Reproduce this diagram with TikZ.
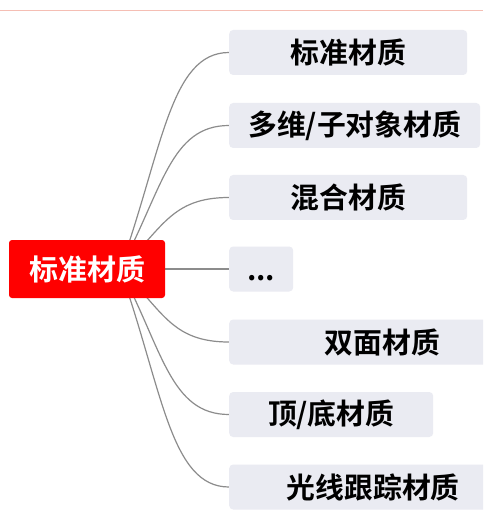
\documentclass[tikz,border=0pt]{standalone}
\usepackage{fontspec}
\newfontfamily\cjk{Noto Sans CJK SC}[BoldFont={Noto Sans CJK SC Bold}]
\usetikzlibrary{backgrounds,calc}
\definecolor{boxfill}{RGB}{234,235,242}
\definecolor{rootred}{RGB}{255,0,0}
\definecolor{linegray}{RGB}{140,140,140}
\definecolor{topline}{RGB}{245,190,180}
\begin{document}
\begin{tikzpicture}[x=1pt,y=1pt,
  childbox/.style={fill=boxfill, rounded corners=4pt, minimum height=45pt, inner sep=0pt, anchor=west,
    font=\cjk\bfseries\fontsize{28.8}{32}\selectfont, text=black},
  rootnode/.style={fill=rootred, rounded corners=3pt, minimum width=156pt, minimum height=58pt, inner sep=0pt,
    font=\cjk\bfseries\fontsize{29}{32}\selectfont, text=white},
  conn/.style={draw=linegray, line width=1.2pt}]
\useasboundingbox (0,0) rectangle (483,-518);
\clip (0,0) rectangle (483,-518);
\draw[topline, line width=1.6pt] (0,-10.5) -- (483,-10.5);
\node[rootnode] (root) at (87,-269) {标准材质};
\node[childbox, minimum width=238pt] (c1) at (229,-52.5) {标准材质};
\node[childbox, minimum width=251pt] (c2) at (229,-125.5) {多维/子对象材质};
\node[childbox, minimum width=238pt] (c3) at (229,-197.5) {混合材质};
\node[childbox, minimum width=64pt] (c4) at (229,-269) {\vphantom{质}...};
\node[childbox, minimum width=306pt] (c5) at (229,-342) {双面材质};
\node[childbox, minimum width=204pt] (c6) at (229,-414.5) {顶/底材质};
\node[childbox, minimum width=288pt] (c7) at (229,-487) {光线跟踪材质};
\coordinate (src) at (120,-269);
\begin{pgfonlayer}{background}
\fill[white] (0,0) rectangle (483,-518);
\foreach \c in {c1,c2,c3,c5,c6,c7}{
  \draw[conn] let \p1=(src), \p2=(\c.west) in (\p1) .. controls ({\x1+0.39*(\x2-\x1)},{\y1+0.55*(\y2-\y1)}) and ({\x1+0.46*(\x2-\x1)},{\y2}) .. (\p2);
}
\draw[conn] (root.east) -- (c4.west);
\end{pgfonlayer}
\end{tikzpicture}
\end{document}
